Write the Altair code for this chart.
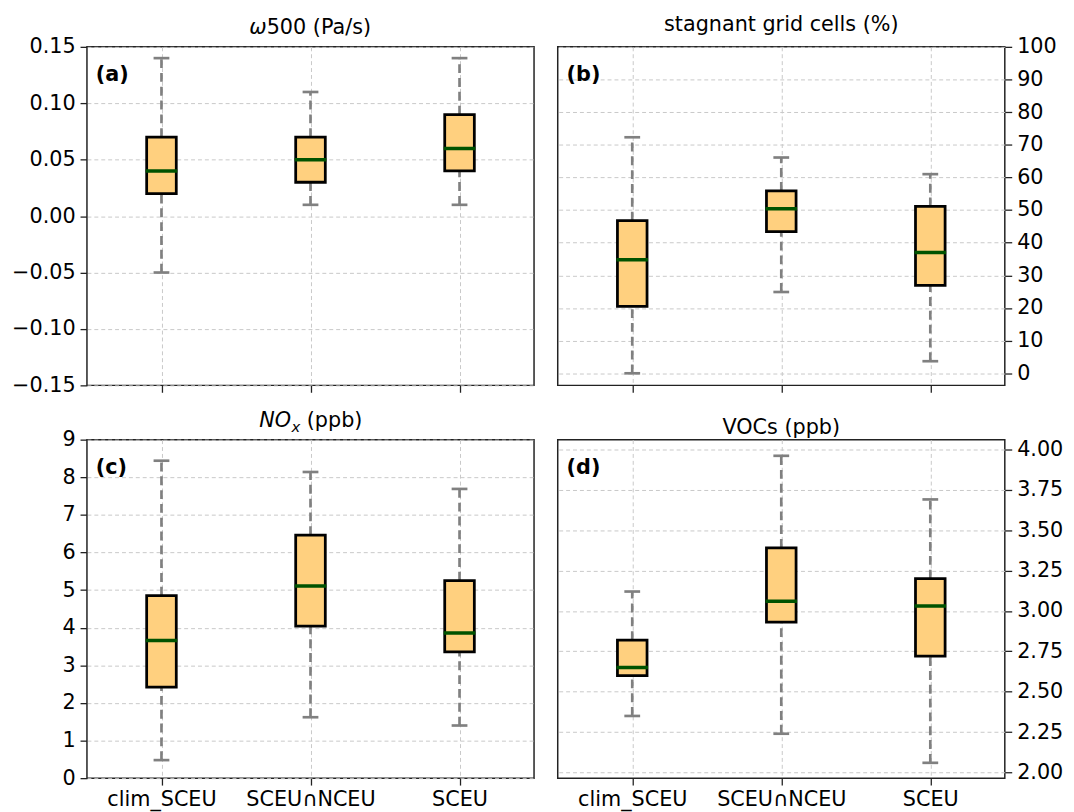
import altair as alt
import pandas as pd

categories = ["clim_SCEU", "SCEU∩NCEU", "SCEU"]

# (a) omega500 (Pa/s)
omega_low = [-0.05, 0.01, 0.01]
omega_q1 = [0.02, 0.03, 0.04]
omega_med = [0.04, 0.05, 0.06]
omega_q3 = [0.07, 0.07, 0.09]
omega_high = [0.14, 0.11, 0.14]

# (b) stagnant grid cells (%)
stag_low = [0.0, 24.9, 3.7]
stag_q1 = [20.5, 43.4, 26.9]
stag_med = [34.8, 50.4, 37.0]
stag_q3 = [46.8, 55.9, 51.1]
stag_high = [72.3, 66.1, 61.0]

# (c) NOx (ppb)
nox_low = [0.48, 1.62, 1.40]
nox_q1 = [2.42, 4.04, 3.36]
nox_med = [3.66, 5.11, 3.86]
nox_q3 = [4.85, 6.46, 5.25]
nox_high = [8.44, 8.14, 7.69]

# (d) VOCs (ppb)
voc_low = [2.35, 2.24, 2.06]
voc_q1 = [2.60, 2.93, 2.72]
voc_med = [2.65, 3.06, 3.03]
voc_q3 = [2.82, 3.39, 3.20]
voc_high = [3.12, 3.96, 3.69]

omega_ticks = [-0.15, -0.10, -0.05, 0.0, 0.05, 0.10, 0.15]
stag_ticks = [0, 10, 20, 30, 40, 50, 60, 70, 80, 90, 100]
nox_ticks = [0, 1, 2, 3, 4, 5, 6, 7, 8, 9]
voc_ticks = [2.0, 2.25, 2.5, 2.75, 3.0, 3.25, 3.5, 3.75, 4.0]

FONT = "DejaVu Sans"
W, H = 453, 343
FS = 21
TITLE_Y = -13  # baseline of the rich panel titles, relative to plot top


def make_df(low, q1, med, q3, high):
    return pd.DataFrame({"cat": categories, "low": low, "q1": q1,
                         "med": med, "q3": q3, "high": high})


def text_piece(txt, x, y, align, size=FS, italic=False):
    return alt.Chart(pd.DataFrame({"t": [txt]})).mark_text(
        font=FONT, fontSize=size, fontStyle="italic" if italic else "normal",
        align=align, baseline="alphabetic", color="black"
    ).encode(text="t:N", x=alt.value(x), y=alt.value(y))


def panel(df, title, label, domain, ticks, fmt, right, xlabels, rich=None):
    xenc = alt.X("cat:N", sort=categories,
                 scale=alt.Scale(type="point", padding=0.5),
                 axis=alt.Axis(title=None, labels=xlabels, labelAngle=0,
                               labelFontSize=FS, labelFont=FONT, labelColor="black",
                               tickSize=7, tickWidth=1.3, tickColor="#222",
                               labelPadding=4, domain=False,
                               grid=True, gridDash=[4, 3], gridColor="#c8c8c8"))
    yaxis = alt.Axis(title=None, values=ticks, format=fmt,
                     orient="right" if right else "left",
                     labelFontSize=FS, labelFont=FONT, labelColor="black",
                     tickSize=7, tickWidth=1.3, tickColor="#222", labelPadding=5,
                     domain=False, grid=True, gridDash=[4, 3], gridColor="#c8c8c8")
    yscale = alt.Scale(domain=domain, nice=False, zero=False)

    base = alt.Chart(df)
    wl = base.mark_rule(color="#808080", strokeWidth=2.7, strokeDash=[9, 5]).encode(
        x=xenc, y=alt.Y("low:Q", scale=yscale, axis=yaxis), y2="q1")
    wh = base.mark_rule(color="#808080", strokeWidth=2.7, strokeDash=[9, 5]).encode(
        x=xenc, y=alt.Y("q3:Q", scale=yscale, axis=yaxis), y2="high")
    box = base.mark_bar(size=30, fill="#FFD07F", stroke="black", strokeWidth=2.8,
                        opacity=1).encode(
        x=xenc, y=alt.Y("q1:Q", scale=yscale, axis=yaxis), y2="q3")
    med = base.mark_tick(color="#005200", thickness=3.5, size=32, opacity=1).encode(
        x=xenc, y=alt.Y("med:Q", scale=yscale, axis=yaxis))
    capl = base.mark_tick(color="#808080", thickness=2.7, size=16, opacity=1).encode(
        x=xenc, y=alt.Y("low:Q", scale=yscale, axis=yaxis))
    caph = base.mark_tick(color="#808080", thickness=2.7, size=16, opacity=1).encode(
        x=xenc, y=alt.Y("high:Q", scale=yscale, axis=yaxis))
    lab = alt.Chart(pd.DataFrame({"lab": [label]})).mark_text(
        font=FONT, fontSize=FS, fontWeight="bold", align="left", baseline="middle",
        color="black").encode(text="lab:N", x=alt.value(9), y=alt.value(29))
    layers = [wl, wh, box, med, capl, caph, lab]
    if rich is not None:
        layers += rich
        return alt.layer(*layers).properties(width=W, height=H)
    return alt.layer(*layers).properties(
        width=W, height=H,
        title=alt.TitleParams(title, fontSize=FS, font=FONT, fontWeight="normal",
                              color="black", offset=1))


# rich titles (italic math parts), split points estimated from DejaVu widths
s_a = W / 2 - 62 + 17.6
rich_a = [
    text_piece("ω", s_a, TITLE_Y, "right", italic=True),
    text_piece("500 (Pa/s)", s_a, TITLE_Y, "left"),
]
s_c = W / 2 - 52 + 32.2
rich_c = [
    text_piece("NO", s_c, TITLE_Y, "right", italic=True),
    text_piece("x", s_c + 0.5, TITLE_Y + 5, "left", size=15, italic=True),
    text_piece("(ppb)", s_c + 16, TITLE_Y, "left"),
]

pa = panel(make_df(omega_low, omega_q1, omega_med, omega_q3, omega_high),
           "ω500 (Pa/s)", "(a)", [-0.15, 0.15], omega_ticks, ".2f", False, False,
           rich=rich_a)
pb = panel(make_df(stag_low, stag_q1, stag_med, stag_q3, stag_high),
           "stagnant grid cells (%)", "(b)", [-3.7, 100], stag_ticks, "d", True, False)
pc = panel(make_df(nox_low, nox_q1, nox_med, nox_q3, nox_high),
           "NOx (ppb)", "(c)", [0, 9], nox_ticks, "d", False, True, rich=rich_c)
pd_ = panel(make_df(voc_low, voc_q1, voc_med, voc_q3, voc_high),
            "VOCs (ppb)", "(d)", [1.965, 4.06], voc_ticks, ".2f", True, True)

chart = alt.vconcat(
    alt.hconcat(pa, pb, spacing=22),
    alt.hconcat(pc, pd_, spacing=22),
    spacing=13,
).properties(
    padding={"left": 2, "top": 0, "right": 2, "bottom": 2}
).configure(
    background="white"
).configure_view(
    stroke="#222", strokeWidth=1.5
)

chart.save("out.html", embed_options={"renderer": "svg", "actions": False})
